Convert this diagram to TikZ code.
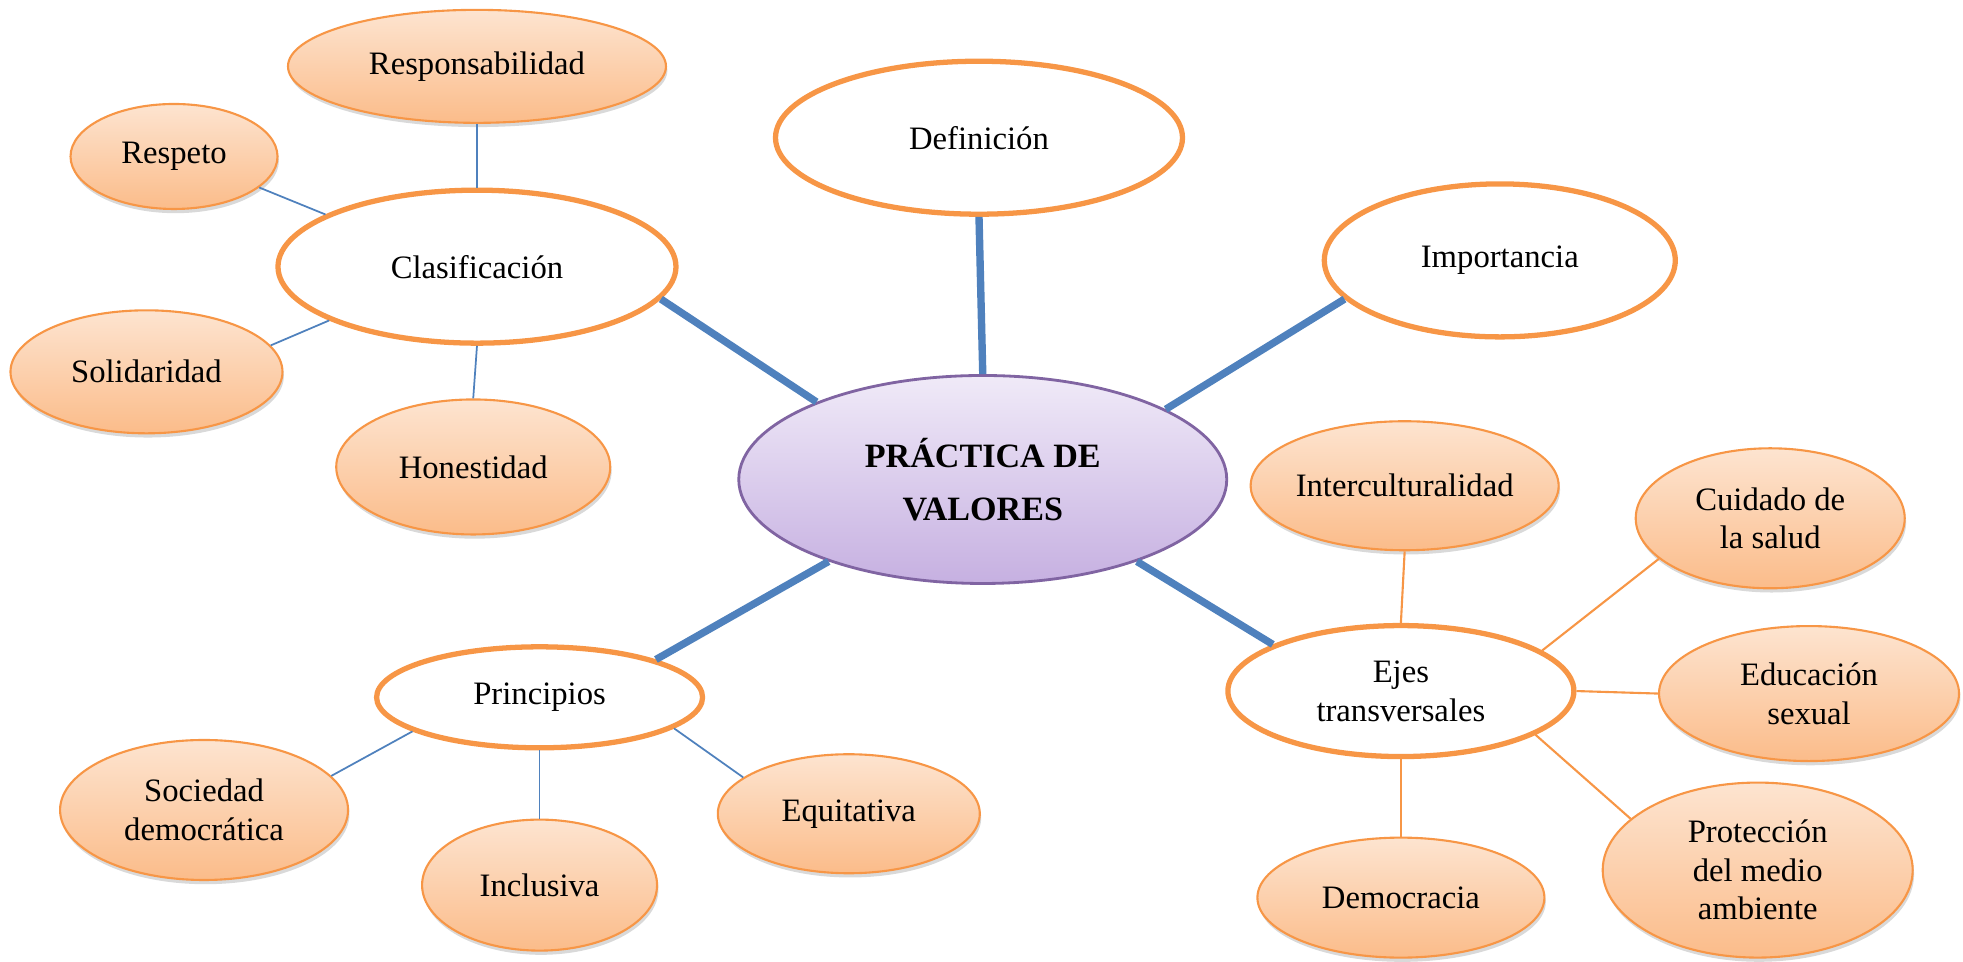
\documentclass[tikz,border=0pt]{standalone}
\usepackage{fontspec}
\setmainfont{Liberation Serif}
\usetikzlibrary{shapes.geometric,shadows}
\definecolor{borde}{HTML}{F79646}
\definecolor{azul}{HTML}{4F81BD}
\definecolor{morado}{HTML}{8064A2}
\definecolor{naranjaclaro}{HTML}{FDE4D0}
\definecolor{naranja}{HTML}{FBBC8A}
\definecolor{lilaclaro}{HTML}{F0EAF8}
\definecolor{lila}{HTML}{C6B0E1}

\tikzset{
  centro/.style={ellipse, draw=morado, line width=0.8pt, top color=lilaclaro, bottom color=lila,
    align=center, inner sep=0pt, font=\fontsize{9.7}{15}\selectfont\bfseries},
  tema/.style={ellipse, draw=borde, line width=1.5pt, fill=white, align=center, inner sep=0pt,
    font=\fontsize{9.3}{11}\selectfont},
  hoja/.style={ellipse, draw=borde, line width=0.6pt, top color=naranjaclaro, bottom color=naranja,
    align=center, inner sep=0pt, font=\fontsize{9.3}{11}\selectfont,
    drop shadow={opacity=0.3, shadow xshift=0.4pt, shadow yshift=-1.2pt}},
  rama/.style={azul, line width=2.1pt},
  azulfino/.style={azul, line width=0.5pt},
  naranjafino/.style={borde, line width=0.6pt}
}

\begin{document}
\begin{tikzpicture}[x=0.1252mm, y=-0.1252mm]
	 \useasboundingbox (0,0) rectangle (1568,768);
	 % nodo central y temas
	 \node[centro, minimum width=48.8mm, minimum height=20.8mm] (valores) at (785,383) {PRÁCTICA DE\\VALORES};
	 \node[tema, minimum width=40.7mm, minimum height=15.3mm] (definicion) at (782,110) {Definición};
	 \node[tema, minimum width=35.1mm, minimum height=15.3mm] (importancia) at (1198,208) {Importancia};
	 \node[tema, minimum width=39.8mm, minimum height=15.3mm] (clasificacion) at (381,213) {Clasificación};
	 \node[tema, minimum width=32.6mm, minimum height=10.1mm] (principios) at (431,557) {Principios};
	 \node[tema, minimum width=34.6mm, minimum height=13.1mm] (ejes) at (1119,552) {Ejes\\transversales};
	 % clasificacion
	 \node[hoja, minimum width=37.8mm, minimum height=11.3mm] (responsabilidad) at (381,53) {Responsabilidad};
	 \node[hoja, minimum width=20.7mm, minimum height=10.5mm] (respeto) at (139,125) {Respeto};
	 \node[hoja, minimum width=27.2mm, minimum height=12.3mm] (solidaridad) at (117,297) {Solidaridad};
	 \node[hoja, minimum width=27.4mm, minimum height=13.5mm] (honestidad) at (378,373) {Honestidad};
	 % principios
	 \node[hoja, minimum width=28.8mm, minimum height=14.0mm] (sociedad) at (163,647) {Sociedad\\democrática};
	 \node[hoja, minimum width=23.5mm, minimum height=13.1mm] (inclusiva) at (431,707) {Inclusiva};
	 \node[hoja, minimum width=26.2mm, minimum height=11.9mm] (equitativa) at (678,650) {Equitativa};
	 % ejes transversales
	 \node[hoja, minimum width=30.0mm, minimum height=12.9mm] (interculturalidad) at (1122,388) {Interculturalidad};
	 \node[hoja, minimum width=26.9mm, minimum height=14.0mm] (salud) at (1414,414) {Cuidado de\\la salud};
	 \node[hoja, minimum width=30.0mm, minimum height=13.5mm] (educacion) at (1445,554) {Educación\\sexual};
	 \node[hoja, minimum width=31.0mm, minimum height=17.5mm] (ambiente) at (1404,695) {Protección\\del medio\\ambiente};
	 \node[hoja, minimum width=28.7mm, minimum height=12.0mm] (democracia) at (1119,717) {Democracia};
	 % ramas
	 \draw[rama] (valores.north) -- (definicion.south);
	 \draw[rama] (valores.155) -- (clasificacion.350);
	 \draw[rama] (valores.21) -- (importancia.194);
	 \draw[rama] (valores.208) -- (principios.18);
	 \draw[rama] (valores.332) -- (ejes.160);
	 \draw[azulfino] (responsabilidad.south) -- (clasificacion.north);
	 \draw[azulfino] (respeto.340) -- (clasificacion.161);
	 \draw[azulfino] (solidaridad.12) -- (clasificacion.200);
	 \draw[azulfino] (clasificacion.south) -- (honestidad.north);
	 \draw[azulfino] (sociedad.15) -- (principios.195);
	 \draw[azulfino] (principios.south) -- (inclusiva.north);
	 \draw[azulfino] (principios.347) -- (equitativa.161);
	 \draw[naranjafino] (interculturalidad.south) -- (ejes.north);
	 \draw[naranjafino] (ejes.16) -- (salud.200);
	 \draw[naranjafino] (ejes.east) -- (educacion.west);
	 \draw[naranjafino] (ejes.342) -- (ambiente.158);
	 \draw[naranjafino] (ejes.south) -- (democracia.north);
\end{tikzpicture}
\end{document}
